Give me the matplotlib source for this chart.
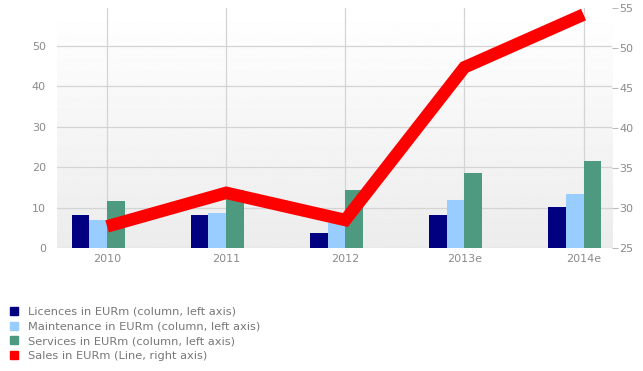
import numpy as np
import matplotlib.pyplot as plt
from matplotlib.lines import Line2D

years = ['2010', '2011', '2012', '2013e', '2014e']
licences = [8.2, 8.2, 3.8, 8.1, 10.1]
maintenance = [6.9, 8.7, 6.2, 11.9, 13.5]
services = [11.7, 14.3, 14.3, 18.5, 21.5]
sales = [27.7, 31.9, 28.5, 47.6, 54.2]

c_lic = '#000080'
c_main = '#99ccff'
c_serv = '#4e9a80'
c_sales = '#ff0000'
txt = '#8a8a8a'

fig = plt.figure(figsize=(6.43, 3.71), dpi=100)
ax = fig.add_axes([0.0887, 0.3315, 0.8633, 0.6465])
x = np.arange(len(years))

# soft grey-to-white background
grad = np.linspace(0.925, 1.0, 256).reshape(-1, 1)
ax.imshow(grad, cmap='gray', vmin=0, vmax=1, aspect='auto', origin='lower',
          extent=(-0.42, 4.24, 0, 59.4), zorder=0)

w = 0.149
ax.bar(x - w * 1.5, licences, w, color=c_lic, zorder=2)
ax.bar(x - w * 0.5, maintenance, w, color=c_main, zorder=2)
ax.bar(x + w * 0.5, services, w, color=c_serv, zorder=2)
ax.set_xlim(-0.42, 4.24)
ax.set_ylim(0, 59.4)
ax.set_yticks(range(0, 51, 10))
ax.set_xticks(x)
ax.set_xticklabels(years)
ax.grid(True, color='#d4d4d4', linewidth=0.9, zorder=1)
ax.set_axisbelow(True)
ax.tick_params(axis='both', length=0, labelsize=8, colors=txt, pad=4)
ax.tick_params(axis='y', pad=8)
for s in ax.spines.values():
    s.set_visible(False)

ax2 = ax.twinx()
ax2.plot(x, sales, color=c_sales, linewidth=9, solid_joinstyle='miter',
         solid_capstyle='butt', zorder=5)
ax2.set_ylim(25, 55)
ax2.set_yticks(range(25, 56, 5))
ax2.tick_params(axis='y', length=4, width=0.8, labelsize=8,
                colors=txt, pad=1)
ax2.tick_params(axis='y', color='#bbbbbb')
for s in ax2.spines.values():
    s.set_visible(False)

handles = [Line2D([], [], marker='s', linestyle='none', markersize=6, color=c)
           for c in (c_lic, c_main, c_serv, c_sales)]
labels = ['Licences in EURm (column, left axis)',
          'Maintenance in EURm (column, left axis)',
          'Services in EURm (column, left axis)',
          'Sales in EURm (Line, right axis)']
fig.legend(handles, labels, loc='lower left', bbox_to_anchor=(0.006, 0.008),
           frameon=False, fontsize=8.2, labelcolor='#777777',
           handlelength=0.6, handletextpad=0.9, labelspacing=0.42,
           borderaxespad=0.2)

fig.savefig('out.png', dpi=100)
